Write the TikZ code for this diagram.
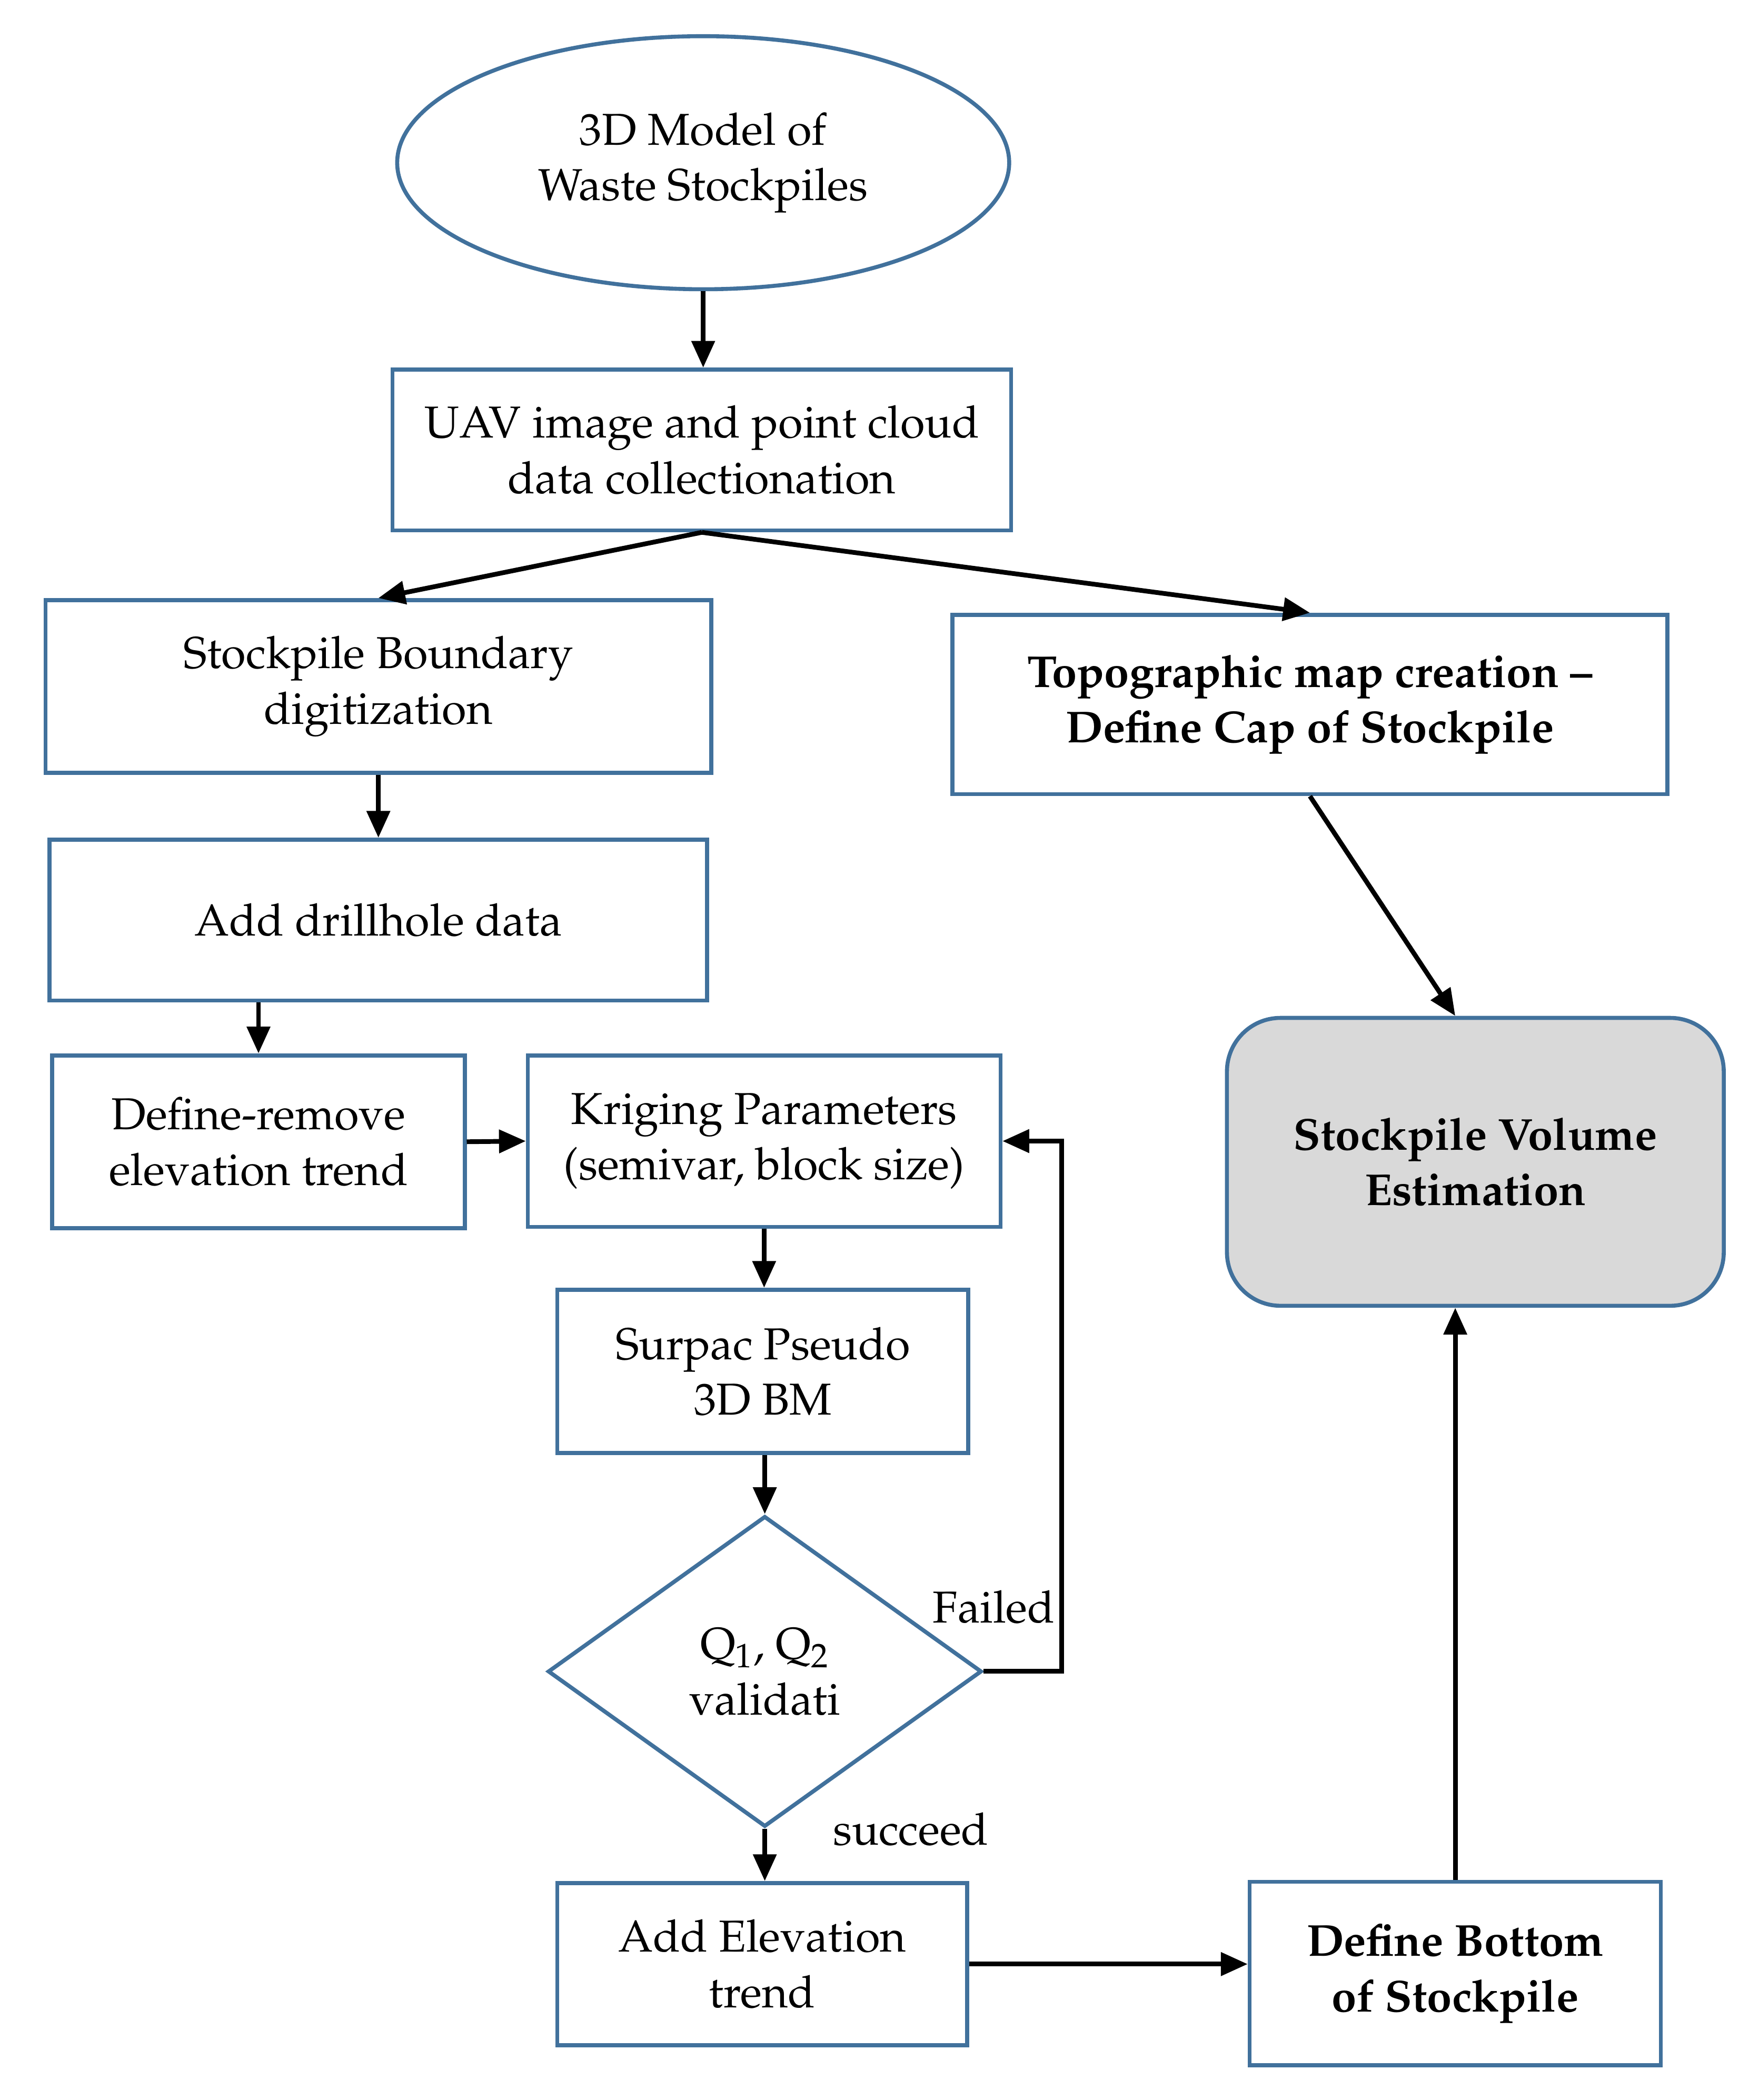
\documentclass[tikz,border=0pt]{standalone}
\usepackage[T1]{fontenc}
\usepackage{mathpazo}
\usetikzlibrary{shapes.geometric,arrows.meta}

\definecolor{boxblue}{RGB}{65,113,156}
\definecolor{volgray}{RGB}{217,217,217}

\begin{document}
\begin{tikzpicture}[
    x=0.02cm,
    y=-0.02cm,
    block/.style={draw=boxblue,line width=1.7pt,align=center,inner sep=0pt,
                  font=\fontsize{19}{23.6}\selectfont},
    bblock/.style={block,font=\fontsize{19}{23.6}\selectfont\bfseries},
    arr/.style={line width=2pt,-{Triangle[length=0.4cm,width=0.34cm]}},
    lbl/.style={font=\fontsize{19}{23.6}\selectfont}
]

% -------------------------------------------------
% Рамка рисунка
% -------------------------------------------------

\fill[white] (0,0) rectangle (1313,1568);
\useasboundingbox (0,0) rectangle (1313,1568);

% -------------------------------------------------
% Левая ветвь
% -------------------------------------------------

\node[block,ellipse,minimum width=9.14cm,minimum height=3.78cm] (model) at (525,121.5)
    {3D Model of\\Waste Stockpiles};
\node[block,minimum width=9.24cm,minimum height=2.40cm] (uav) at (524,336)
    {UAV image and point cloud\\data collectionation};
\node[block,minimum width=9.94cm,minimum height=2.58cm] (bound) at (282.5,512.5)
    {Stockpile Boundary\\digitization};
\node[block,minimum width=9.82cm,minimum height=2.40cm] (drill) at (282.5,687)
    {Add drillhole data};
\node[block,minimum width=6.16cm,minimum height=2.58cm] (rem) at (193,852.5)
    {Define-remove\\elevation trend};
\node[block,minimum width=7.06cm,minimum height=2.56cm] (krig) at (570.5,852)
    {Kriging Parameters\\(semivar, block size)};
\node[block,minimum width=6.14cm,minimum height=2.44cm] (surp) at (569.5,1024)
    {Surpac Pseudo\\3D BM};
\node[block,diamond,minimum width=6.48cm,minimum height=4.64cm] (diam) at (571,1248)
    {Q\textsubscript{1}, Q\textsubscript{2}\\validati};
\node[block,minimum width=6.12cm,minimum height=2.42cm] (elev) at (569,1466.5)
    {Add Elevation\\trend};

% -------------------------------------------------
% Правая ветвь
% -------------------------------------------------

\node[bblock,minimum width=10.68cm,minimum height=2.68cm] (topo) at (978,526)
    {Topographic map creation --\\Define Cap of Stockpile};
\node[bblock,minimum width=6.14cm,minimum height=2.74cm] (bot) at (1086.5,1473.5)
    {Define Bottom\\of Stockpile};
\node[bblock,fill=volgray,rounded corners=0.8cm,minimum width=7.42cm,minimum height=4.30cm] (vol) at (1101.5,867.5)
    {Stockpile Volume\\Estimation};

% -------------------------------------------------
% Подписи ветвления
% -------------------------------------------------

\node[lbl] (failed) at (742,1200) {Failed};
\node[lbl] (succ) at (680,1366) {succeed};

% -------------------------------------------------
% Стрелки
% -------------------------------------------------

\draw[arr] (model.south) -- (model.south |- uav.north);
\draw[arr] (uav.south) -- (bound.north);
\draw[arr] (uav.south) -- (topo.north);
\draw[arr] (bound.south) -- (bound.south |- drill.north);
\draw[arr] (rem.north |- drill.south) -- (rem.north);
\draw[arr] (rem.east) -- (krig.west);
\draw[arr] (krig.south) -- (krig.south |- surp.north);
\draw[arr] (diam.north |- surp.south) -- (diam.north);
\draw[arr] (diam.east) -- ++(58,0) |- (krig.east);
\draw[arr] (diam.south) -- (diam.south |- elev.north);
\draw[arr] (elev.east) -- (elev.east -| bot.west);
\draw[arr] (bot.north) -- (bot.north |- vol.south);
\draw[arr] (topo.south) -- (bot.north |- vol.north);
\end{tikzpicture}
\end{document}
